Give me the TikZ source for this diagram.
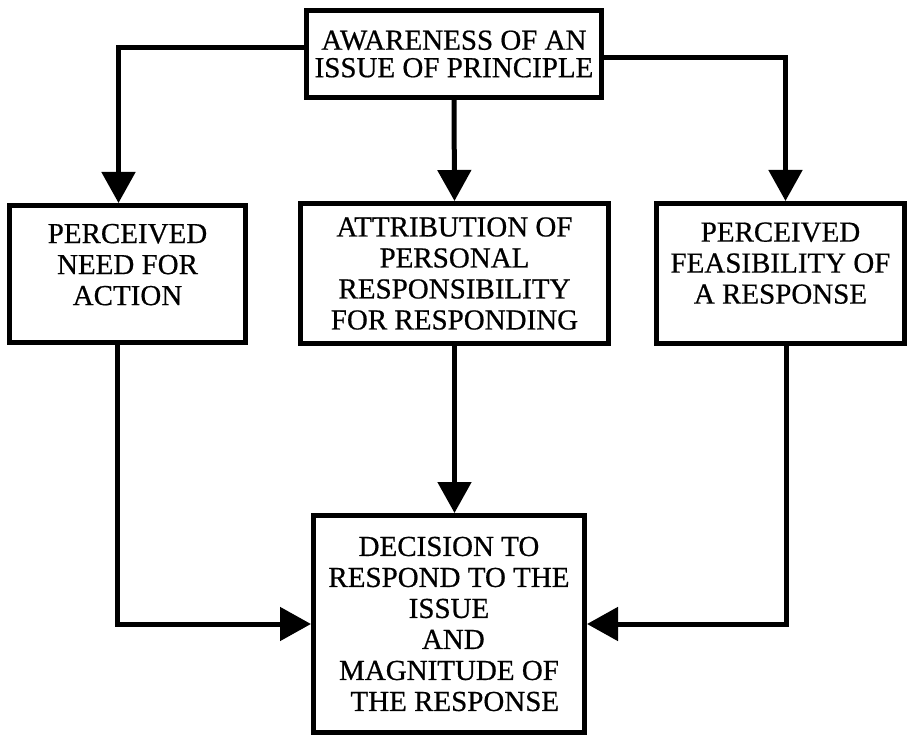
\documentclass[tikz,border=0pt]{standalone}
\usepackage{fontspec}
\setmainfont[FakeBold=0.6]{Liberation Serif}
\usetikzlibrary{arrows.meta}
\begin{document}
\begin{tikzpicture}[x=1pt,y=-1pt,
  box/.style={draw, line width=5pt, rectangle, inner sep=0pt, align=center,
    font=\fontsize{29}{31}\selectfont},
  flow/.style={line width=5pt, -{Triangle[length=31pt,width=33pt]}}]
\useasboundingbox (0,0) rectangle (908,735);

% boxes
\node[box, minimum width=295pt, minimum height=87pt,
  font=\fontsize{29}{27.5}\selectfont] (aware) at (454,54)
  {AWARENESS OF AN\\ISSUE OF PRINCIPLE};
\node[box, minimum width=236pt, minimum height=137pt, text depth=19pt]
  (need) at (127.5,274) {PERCEIVED\\NEED FOR\\ACTION};
\node[box, minimum width=308pt, minimum height=140pt] (attr) at (454.5,273.5)
  {ATTRIBUTION OF\\PERSONAL\\RESPONSIBILITY\\FOR RESPONDING};
\node[box, minimum width=248pt, minimum height=140pt, text depth=21pt]
  (feas) at (780.5,273.5) {PERCEIVED\\FEASIBILITY OF\\A RESPONSE};
\node[box, minimum width=271pt, minimum height=217pt] (decision) at (449,624)
  {DECISION TO\\RESPOND TO THE\\ISSUE\\\hspace{0.3em}AND\\MAGNITUDE OF\\\hspace{0.4em}THE RESPONSE};

% connectors
\draw[flow] ([yshift=6pt]aware.west) -| ([xshift=-9pt]need.north);
\draw[flow] ([yshift=-4pt]aware.east) -| ([xshift=5pt]feas.north);
\draw[flow] (aware.south) -- (attr.north);
\draw[flow] (attr.south) -- (attr.south |- decision.north);
\draw[flow] ([xshift=-10pt]need.south) |- (decision.west);
\draw[flow] ([xshift=6pt]feas.south) |- (decision.east);
\end{tikzpicture}
\end{document}
